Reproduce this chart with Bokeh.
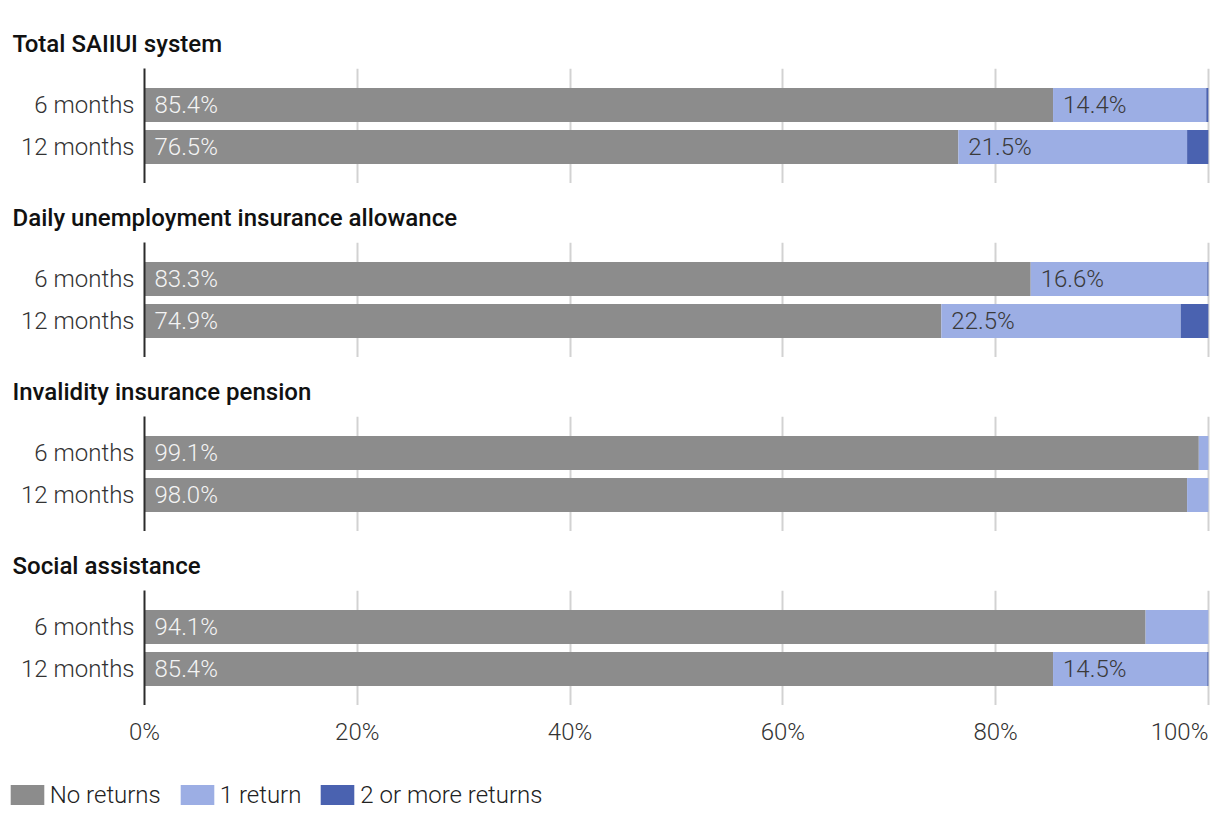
from bokeh.plotting import figure
from bokeh.models import FactorRange, Range1d, FixedTicker, Legend, LegendItem, ColumnDataSource
from bokeh.layouts import column
from bokeh.embed import file_html
from bokeh.resources import INLINE
from bokeh.core.properties import value

groups = ["Total SAIIUI system", "Daily unemployment insurance allowance",
          "Invalidity insurance pension", "Social assistance"]
periods = ["6 months", "12 months"]
no_returns = [[85.4, 76.5], [83.3, 74.9], [99.1, 98.0], [94.1, 85.4]]
one_return = [[14.4, 21.5], [16.6, 22.5], [0.9, 2.0], [5.9, 14.5]]
two_plus = [[0.2, 2.0], [0.1, 2.6], [0.0, 0.0], [0.0, 0.1]]
x_ticks = [0, 20, 40, 60, 80, 100]
series_names = ["No returns", "1 return", "2 or more returns"]

COLORS = ["#8c8c8c", "#9caee4", "#4a62b0"]
FONT = "Roboto Light"
TFONT = "Roboto Medium"
TXT = "#333333"
FS = "24px"
W = 1212
BORDER_TOP = 59
FRAME_H = 115
LEFT = 144
RIGHT = 2
X_END = 100.2
PAD = 0.369
LABEL_MIN = 10
FOOT_H = 115

figs = []
for gi, g in enumerate(groups):
    first = gi == 0
    top = BORDER_TOP + (9 if first else 0)
    p = figure(width=W, height=top + FRAME_H, output_backend="svg", toolbar_location=None,
               y_range=FactorRange(factors=list(reversed(periods)), range_padding=PAD,
                                   range_padding_units="absolute"),
               x_range=Range1d(0, X_END), x_axis_location=None,
               min_border_left=LEFT, min_border_right=RIGHT,
               min_border_top=top, min_border_bottom=0)
    p.outline_line_color = None
    p.title.text = g
    p.title.align = "left"
    p.title.offset = -(LEFT - 12)
    p.title.standoff = 21
    p.title.text_font = TFONT
    p.title.text_font_size = "24px"
    p.title.text_font_style = "normal"
    p.title.text_color = "#111111"

    nr = no_returns[gi]
    o1 = one_return[gi]
    t2 = two_plus[gi]
    right1 = [a + b for a, b in zip(nr, o1)]
    right2 = [a + b + c for a, b, c in zip(nr, o1, t2)]
    src = ColumnDataSource(dict(y=periods, z=[0, 0], nr=nr, r1=right1, r2=right2))
    p.hbar(y="y", left="z", right="nr", height=0.81, source=src, fill_color=COLORS[0], line_color=None)
    p.hbar(y="y", left="nr", right="r1", height=0.81, source=src, fill_color=COLORS[1], line_color=None)
    p.hbar(y="y", left="r1", right="r2", height=0.81, source=src, fill_color=COLORS[2], line_color=None)

    lab0 = ColumnDataSource(dict(x=[0, 0], y=periods, t=[f"{v:.1f}%" for v in nr]))
    p.text(x="x", y="y", text="t", source=lab0, x_offset=10, text_baseline="middle",
           text_font=value(FONT), text_font_size=FS, text_color="#f4f4f4")
    idx = [i for i, v in enumerate(o1) if v >= LABEL_MIN]
    lab1 = ColumnDataSource(dict(x=[nr[i] for i in idx], y=[periods[i] for i in idx],
                                 t=[f"{o1[i]:.1f}%" for i in idx]))
    p.text(x="x", y="y", text="t", source=lab1, x_offset=10, text_baseline="middle",
           text_font=value(FONT), text_font_size=FS, text_color="#3a3a3a")

    p.xgrid.ticker = FixedTicker(ticks=x_ticks[1:])
    p.xgrid.grid_line_color = "#d2d2d2"
    p.xgrid.grid_line_width = 2
    p.ygrid.grid_line_color = None

    ya = p.yaxis[0]
    ya.axis_line_color = "#2b2b2b"
    ya.axis_line_width = 2
    ya.major_tick_line_color = None
    ya.minor_tick_line_color = None
    ya.major_tick_out = 0
    ya.major_tick_in = 0
    ya.major_label_standoff = 10
    ya.major_label_text_font = FONT
    ya.major_label_text_font_size = FS
    ya.major_label_text_color = TXT
    figs.append(p)

# footer: x tick labels + legend, on a full-width frame sharing the panels' x scale
px_per_unit = (W - LEFT - RIGHT) / X_END
foot = figure(width=W, height=FOOT_H, output_backend="svg", toolbar_location=None,
              x_range=Range1d(-LEFT / px_per_unit, X_END + RIGHT / px_per_unit),
              y_range=Range1d(0, FOOT_H), x_axis_location=None, y_axis_location=None,
              min_border=0)
foot.outline_line_color = None
foot.grid.visible = False
aligns = ["center"] * (len(x_ticks) - 1) + ["right"]
tick_src = ColumnDataSource(dict(x=x_ticks, y=[FOOT_H - 26] * len(x_ticks),
                                 t=[f"{t}%" for t in x_ticks], a=aligns))
foot.text(x="x", y="y", text="t", text_align="a", source=tick_src, text_baseline="middle",
          text_font=value(FONT), text_font_size=FS, text_color=TXT)

# legend swatches: hidden renderers carrying the series of the last panel
items = []
series = [no_returns[-1], one_return[-1], two_plus[-1]]
for name, c, vals in zip(series_names, COLORS, series):
    r = foot.hbar(y=[1, 2], left=[0, 0], right=vals, height=0.8, fill_color=c,
                  line_color=None, visible=False)
    items.append(LegendItem(label=name, renderers=[r]))
leg = Legend(items=items, orientation="horizontal", location=(5.75, 11.5),
             glyph_width=42, glyph_height=25, label_height=20, label_standoff=2,
             spacing=15, padding=0, margin=0, border_line_color=None,
             background_fill_alpha=0, label_text_font=FONT, label_text_font_size=FS,
             label_text_color="#222222", label_text_baseline="middle",
             inactive_fill_alpha=0)
foot.add_layout(leg)

panels = column(*figs, spacing=0)
open("out.html", "w").write(file_html([panels, foot], INLINE))
